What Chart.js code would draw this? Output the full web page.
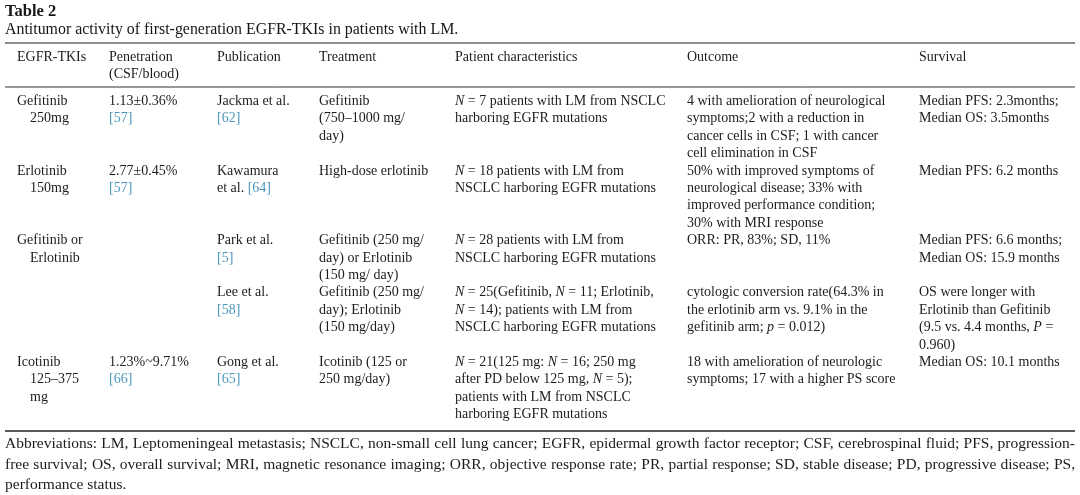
<!DOCTYPE html>
<html>
<head>
<meta charset="utf-8">
<script src="https://cdn.jsdelivr.net/npm/chart.js@4.4.1/dist/chart.umd.min.js"></script>
<style>
  html, body { margin: 0; background: #fff; }
  #wrap { width: 1080px; height: 495px; position: relative; }
</style>
</head>
<body>
<div id="wrap"><canvas id="tableChart"></canvas></div>
<script>
// ---- table content ----
const tableTitle = 'Table 2';
const tableCaption = 'Antitumor activity of first-generation EGFR-TKIs in patients with LM.';

const headers = [
    ['EGFR-TKIs'],
    ['Penetration', '(CSF/blood)'],
    ['Publication'],
    ['Treatment'],
    ['Patient characteristics'],
    ['Outcome'],
    ['Survival']
];

// one entry per study row, each entry = the wrapped lines of that cell
// _x_ = italic, [n] = reference link
const drugs = [
    ['Gefitinib', '250mg'],
    ['Erlotinib', '150mg'],
    ['Gefitinib or', 'Erlotinib'],
    [],
    ['Icotinib', '125–375', 'mg']
];
const penetration = [
    ['1.13±0.36%', '[57]'],
    ['2.77±0.45%', '[57]'],
    [],
    [],
    ['1.23%~9.71%', '[66]']
];
const publication = [
    ['Jackma et al.', '[62]'],
    ['Kawamura', 'et al. [64]'],
    ['Park et al.', '[5]'],
    ['Lee et al.', '[58]'],
    ['Gong et al.', '[65]']
];
const treatment = [
    ['Gefitinib', '(750–1000 mg/', 'day)'],
    ['High-dose erlotinib'],
    ['Gefitinib (250 mg/', 'day) or Erlotinib', '(150 mg/ day)'],
    ['Gefitinib (250 mg/', 'day); Erlotinib', '(150 mg/day)'],
    ['Icotinib (125 or', '250 mg/day)']
];
const patients = [
    ['_N_ = 7 patients with LM from NSCLC', 'harboring EGFR mutations'],
    ['_N_ = 18 patients with LM from', 'NSCLC harboring EGFR mutations'],
    ['_N_ = 28 patients with LM from', 'NSCLC harboring EGFR mutations'],
    ['_N_ = 25(Gefitinib, _N_ = 11; Erlotinib,', '_N_ = 14); patients with LM from', 'NSCLC harboring EGFR mutations'],
    ['_N_ = 21(125 mg: _N_ = 16; 250 mg', 'after PD below 125 mg, _N_ = 5);', 'patients with LM from NSCLC', 'harboring EGFR mutations']
];
const outcome = [
    ['4 with amelioration of neurological', 'symptoms;2 with a reduction in', 'cancer cells in CSF; 1 with cancer', 'cell elimination in CSF'],
    ['50% with improved symptoms of', 'neurological disease; 33% with', 'improved performance condition;', '30% with MRI response'],
    ['ORR: PR, 83%; SD, 11%'],
    ['cytologic conversion rate(64.3% in', 'the erlotinib arm vs. 9.1% in the', 'gefitinib arm; _p_ = 0.012)'],
    ['18 with amelioration of neurologic', 'symptoms; 17 with a higher PS score']
];
const survival = [
    ['Median PFS: 2.3months;', 'Median OS: 3.5months'],
    ['Median PFS: 6.2 months'],
    ['Median PFS: 6.6 months;', 'Median OS: 15.9 months'],
    ['OS were longer with', 'Erlotinib than Gefitinib', '(9.5 vs. 4.4 months, _P_ =', '0.960)'],
    ['Median OS: 10.1 months']
];

const abbreviations = [
    'Abbreviations: LM, Leptomeningeal metastasis; NSCLC, non-small cell lung cancer; EGFR, epidermal growth factor receptor; CSF, cerebrospinal fluid; PFS, progression-',
    'free survival; OS, overall survival; MRI, magnetic resonance imaging; ORR, objective response rate; PR, partial response; SD, stable disease; PD, progressive disease; PS,',
    'performance status.'
];

const columns = [drugs, penetration, publication, treatment, patients, outcome, survival];

// ---- layout (in units of the hidden x/y scales, which map 1:1 to the page) ----
const colX = [17, 109, 217, 319, 455, 687, 919];
const indent = 13;          // continuation lines of the first column
const lineH = 17.4;
const headerY = 61;
const bodyY = 105;
const rules = [{ y: 43, w: 1.6, c: '#6a6a6a' }, { y: 87, w: 1, c: '#333' }, { y: 431, w: 1.6, c: '#222' }];
const ink = '#1c1c1c';
const refBlue = '#4b96bb';
const serif = '"Liberation Serif", "Times New Roman", serif';
const cellFont = '14px ' + serif;

function drawRich(ctx, text, x, y, font) {
    const parts = text.split(/(\[\d+\]|_[^_]+_)/).filter(s => s);
    let cx = x;
    parts.forEach(p => {
        let t = p, style = '', color = ink;
        if (/^\[\d+\]$/.test(p)) color = refBlue;
        else if (/^_.*_$/.test(p)) { t = p.slice(1, -1); style = 'italic '; }
        ctx.font = style + font;
        ctx.fillStyle = color;
        ctx.fillText(t, cx, y);
        cx += ctx.measureText(t).width;
    });
}

// spread words so a line fills the given width
function drawJustified(ctx, text, x, y, width) {
    const words = text.split(' ');
    const total = words.reduce((s, w) => s + ctx.measureText(w).width, 0);
    const gap = (width - total) / (words.length - 1);
    let cx = x;
    words.forEach(w => {
        ctx.fillText(w, cx, y);
        cx += ctx.measureText(w).width + gap;
    });
}

const tablePlugin = {
    id: 'tableText',
    afterDraw(chart) {
        const ctx = chart.ctx;
        const xs = chart.scales.x, ys = chart.scales.y;
        const px = v => xs.getPixelForValue(v);
        const py = v => ys.getPixelForValue(v);
        ctx.save();
        ctx.textBaseline = 'alphabetic';
        ctx.textAlign = 'left';

        // title + caption
        ctx.fillStyle = '#161616';
        ctx.font = 'bold 16.5px ' + serif;
        ctx.fillText(tableTitle, px(5), py(16));
        ctx.font = '15.9px ' + serif;
        ctx.fillText(tableCaption, px(5), py(34));

        // horizontal rules
        rules.forEach(r => {
            ctx.strokeStyle = r.c;
            ctx.lineWidth = r.w;
            ctx.beginPath();
            ctx.moveTo(px(5), py(r.y));
            ctx.lineTo(px(1075), py(r.y));
            ctx.stroke();
        });

        // header
        headers.forEach((lines, c) => {
            lines.forEach((t, i) => drawRich(ctx, t, px(colX[c]), py(headerY + i * lineH), cellFont));
        });

        // body rows, each row as tall as its longest cell
        let rowY = bodyY;
        for (let r = 0; r < drugs.length; r++) {
            let maxLines = 1;
            columns.forEach((col, c) => {
                const lines = col[r];
                maxLines = Math.max(maxLines, lines.length);
                lines.forEach((t, i) => {
                    const x = colX[c] + (c === 0 && i > 0 ? indent : 0);
                    drawRich(ctx, t, px(x), py(rowY + i * lineH), cellFont);
                });
            });
            rowY += maxLines * lineH;
        }

        // footnote
        ctx.font = '15.5px ' + serif;
        ctx.fillStyle = ink;
        abbreviations.forEach((t, i) => {
            const y = py(448 + i * 20.5);
            if (i < abbreviations.length - 1) drawJustified(ctx, t, px(5), y, px(1075) - px(5));
            else ctx.fillText(t, px(5), y);
        });
        ctx.restore();
    }
};

new Chart(document.getElementById('tableChart'), {
    type: 'scatter',
    data: { datasets: [{ data: [], pointRadius: 0 }] },
    options: {
        responsive: true,
        maintainAspectRatio: false,
        animation: false,
        layout: { padding: 0 },
        plugins: { legend: { display: false }, tooltip: { enabled: false } },
        scales: {
            x: { type: 'linear', min: 0, max: 1080, display: false },
            y: { type: 'linear', min: 0, max: 495, reverse: true, display: false }
        }
    },
    plugins: [tablePlugin]
});
</script>
</body>
</html>
